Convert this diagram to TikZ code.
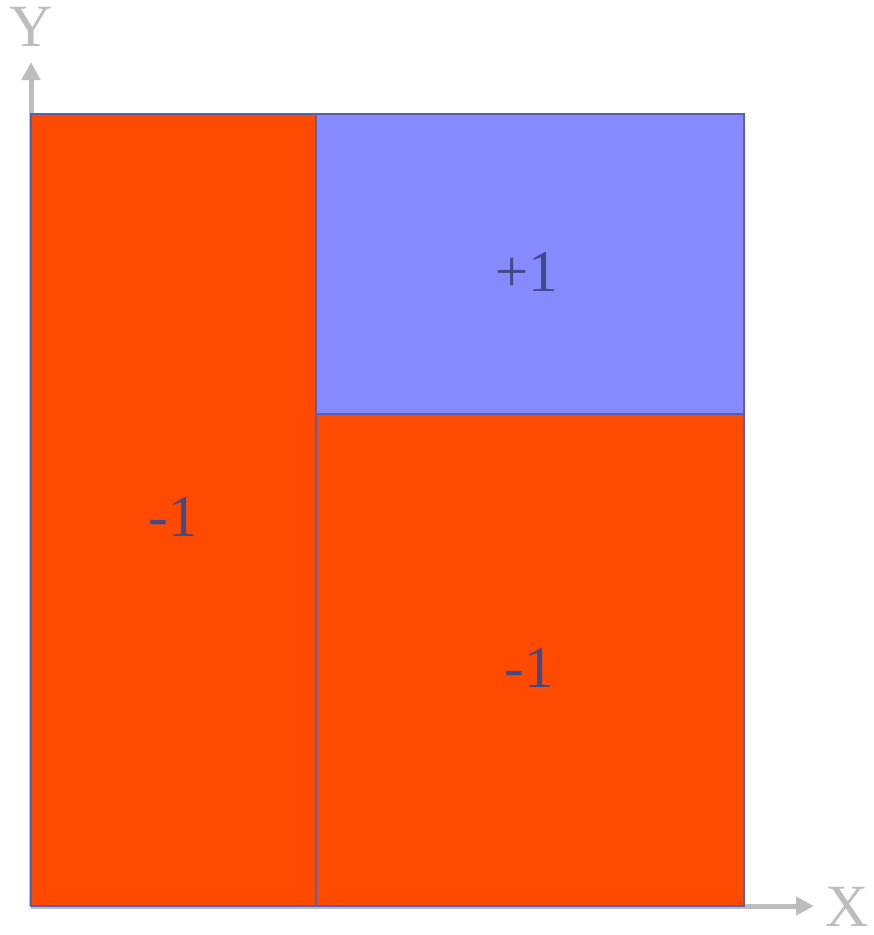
\documentclass[tikz,border=0pt]{standalone}
\usepackage{fontspec}
\setmainfont{Liberation Serif}
\usetikzlibrary{arrows.meta}
\definecolor{redfill}{HTML}{FF4A00}
\definecolor{bluefill}{HTML}{8789FF}
\definecolor{edge}{HTML}{5560B0}
\definecolor{axisgray}{HTML}{BDBDBD}
\definecolor{textblue}{HTML}{3F4A8A}
\tikzset{
  axis/.style={draw=axisgray, line width=5pt, -{Triangle[width=18pt,length=18pt]}},
  axlabel/.style={text=axisgray, font=\fontsize{60}{62}\selectfont, inner sep=0pt},
  region/.style={draw=edge, line width=2pt},
  val/.style={text=textblue, font=\fontsize{59}{61}\selectfont, inner sep=0pt}
}
\begin{document}
\begin{tikzpicture}[x=1pt,y=-1pt]
\useasboundingbox (0,0) rectangle (874,935);
\coordinate (O) at (31,906);
\coordinate (Ytip) at (31,62);
\coordinate (Xtip) at (814,906);
\draw[axis] (O) -- (Ytip);
\draw[axis] (O) -- (Xtip);
\node[axlabel] (ylab) at (31,27) {Y};
\node[axlabel] (xlab) at (847,907) {X};
\filldraw[region, fill=redfill] (31,114) rectangle (316,906);
\filldraw[region, fill=bluefill] (316,114) rectangle (744,414);
\filldraw[region, fill=redfill] (316,414) rectangle (744,906);
\node[val] (a) at (173,517) {-1};
\node[val] (b) at (527,272) {+1};
\node[val] (c) at (529,668) {-1};
\end{tikzpicture}
\end{document}
